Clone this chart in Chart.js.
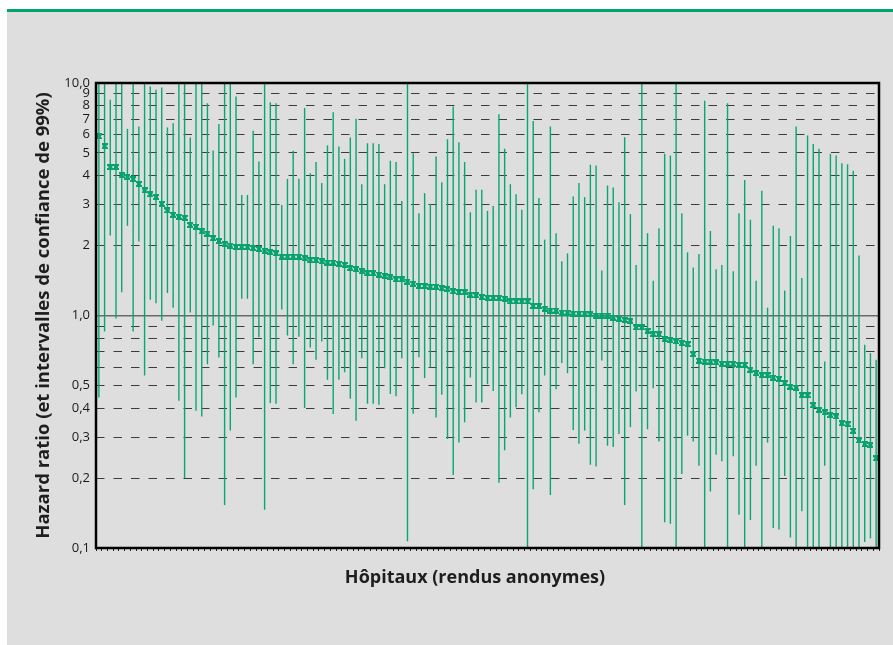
<!DOCTYPE html>
<html>
<head>
<meta charset="utf-8">
<script src="https://cdn.jsdelivr.net/npm/chart.js@4.4.1/dist/chart.umd.min.js"></script>
<style>
html, body { margin: 0; padding: 0; background: #fff; }
#panel { position: absolute; left: 7px; top: 9px; width: 886px; height: 636px; background: #dedede; border-top: 3px solid #00a470; box-sizing: border-box; }
#wrap { position: absolute; left: 0; top: 0; width: 893px; height: 645px; }
</style>
</head>
<body>
<div id="panel"></div>
<div id="wrap"><canvas id="myChart"></canvas></div>
<script>
// hazard ratio per hospital, sorted high to low
var hazard = [5.89,5.35,4.35,4.35,4.01,3.94,3.86,3.68,3.45,3.32,3.23,3.02,2.83,2.71,2.66,2.63,2.45,2.41,2.30,2.25,
  2.15,2.09,2.03,2.00,1.97,1.97,1.97,1.95,1.93,1.90,1.87,1.85,1.79,1.79,1.79,1.79,1.76,1.73,1.73,1.71,
  1.69,1.69,1.67,1.65,1.60,1.58,1.55,1.52,1.52,1.50,1.48,1.46,1.43,1.43,1.40,1.37,1.34,1.34,1.33,1.33,
  1.31,1.30,1.27,1.26,1.26,1.23,1.22,1.20,1.19,1.19,1.19,1.18,1.15,1.15,1.15,1.15,1.10,1.10,1.07,1.05,
  1.05,1.03,1.03,1.02,1.02,1.02,1.01,1.00,1.00,1.00,0.98,0.97,0.957,0.949,0.888,0.888,0.859,0.834,0.83,0.791,
  0.783,0.773,0.760,0.753,0.682,0.640,0.634,0.634,0.628,0.620,0.62,0.62,0.613,0.613,0.584,0.565,0.554,0.554,0.541,0.534,
  0.512,0.495,0.49,0.454,0.454,0.411,0.393,0.383,0.373,0.368,0.344,0.341,0.319,0.29,0.28,0.277,0.243];
// lower bound of the 99% interval
var lower = [0.444,0.853,2.21,0.97,1.26,2.43,0.853,2.08,0.552,1.17,1.13,0.95,1.25,1.08,0.43,0.20,1.03,0.389,0.368,0.617,
  0.906,0.66,0.153,0.32,0.444,1.18,1.18,0.617,0.807,0.146,0.42,0.417,1.06,0.82,0.617,0.81,0.40,0.728,0.645,0.773,
  0.529,0.377,0.529,0.57,0.438,0.353,0.655,0.417,0.417,0.413,0.593,0.46,0.449,0.655,0.107,0.378,0.662,0.538,0.597,0.364,
  0.456,0.294,0.206,0.284,0.347,0.541,0.423,0.423,0.507,0.474,0.191,0.263,0.364,0.402,0.459,0.09,0.179,0.384,0.552,0.169,
  0.482,0.624,0.565,0.322,0.281,0.32,0.228,0.224,0.64,0.275,0.272,0.309,0.153,0.331,0.471,0.09,0.324,0.487,0.287,0.129,
  0.127,0.09,0.208,0.304,0.287,0.226,0.09,0.175,0.252,0.236,0.09,0.248,0.139,0.09,0.132,0.226,0.09,0.284,0.122,0.12,
  0.204,0.111,0.09,0.144,0.09,0.09,0.09,0.226,0.09,0.09,0.09,0.09,0.09,0.09,0.106,0.110,0.09];
// upper bound of the 99% interval (above 10 = off the chart)
var upper = [12,12,8.47,12,12,6.35,12,6.50,12,9.66,9.35,9.57,6.44,6.72,12,12,5.83,12,12,8.19,
  5.13,6.67,12,12,8.75,3.30,3.30,6.23,4.60,12,8.27,8.19,2.99,3.87,5.11,3.87,7.80,4.09,4.57,3.71,
  5.39,7.49,5.33,4.72,5.83,7.01,3.67,5.51,5.51,5.46,3.67,4.63,4.57,3.11,12,4.99,2.75,3.36,3.02,4.83,
  3.74,5.73,7.92,5.56,4.57,2.78,3.47,3.47,2.82,2.96,7.34,5.21,3.67,3.32,2.85,12,6.87,3.20,2.12,6.50,
  2.26,1.71,1.85,3.25,3.71,3.23,4.45,4.42,1.56,3.62,3.55,3.07,5.85,2.73,1.65,12,2.26,1.41,2.37,4.96,
  4.88,12,2.75,1.87,1.61,1.84,8.38,2.31,1.58,1.65,8.19,1.55,2.75,3.83,2.58,1.41,3.44,1.08,2.43,2.37,
  1.28,2.20,6.50,1.45,5.95,5.46,5.21,0.634,4.96,4.88,4.52,4.47,4.19,1.81,0.748,0.689,0.645];

var hospitals = hazard.map(function(v, i) { return 'H' + (i + 1); });

var gridValues = [0.1,0.2,0.3,0.4,0.5,0.6,0.7,0.8,0.9,1,2,3,4,5,6,7,8,9,10];
var tickValues = [0.1,0.2,0.3,0.4,0.5,1,2,3,4,5,6,7,8,9,10];
var tickLabels = ['0,1','0,2','0,3','0,4','0,5','1,0','2','3','4','5','6','7','8','9','10,0'];

var green = '#05a873';

// marker: small square with notches on the sides
var mark = document.createElement('canvas');
mark.width = 6; mark.height = 6;
var mc = mark.getContext('2d');
mc.fillStyle = '#07a26e';
mc.fillRect(0, 0, 6, 2);
mc.fillRect(1, 2, 4, 2);
mc.fillRect(0, 4, 6, 2);

function isOne(ctx) {
  return ctx.tick && Math.abs(ctx.tick.value - 1) < 1e-9;
}

var frame = {
  id: 'frame',
  afterDraw: function(chart) {
    var a = chart.chartArea, c = chart.ctx;
    c.save();
    c.strokeStyle = '#000';
    c.lineWidth = 2.5;
    c.strokeRect(a.left, a.top, a.right - a.left, a.bottom - a.top);
    c.fillStyle = '#1e1e1e';
    c.font = 'bold 18px "Open Sans"';
    c.textAlign = 'center';
    c.textBaseline = 'middle';
    c.fillText('Hôpitaux (rendus anonymes)', 475, 578);
    c.restore();
  }
};

Chart.defaults.font.family = '"Open Sans"';

var graph = new Chart(document.getElementById('myChart'), {
  data: {
    labels: hospitals,
    datasets: [
      {
        type: 'line',
        data: hazard,
        showLine: false,
        pointStyle: mark,
        pointRadius: 3,
        order: 0,
        clip: false
      },
      {
        type: 'bar',
        data: lower.map(function(l, i) { return [l, upper[i]]; }),
        backgroundColor: green,
        barThickness: 1.4,
        inflateAmount: 0,
        grouped: false,
        order: 1,
        clip: 0
      }
    ]
  },
  options: {
    responsive: true,
    maintainAspectRatio: false,
    animation: false,
    layout: { padding: { left: 0, top: 83, right: 14, bottom: 87 } },
    plugins: { legend: { display: false }, tooltip: { enabled: false } },
    scales: {
      x: {
        type: 'category',
        offset: true,
        grid: { drawOnChartArea: false, drawTicks: true, tickLength: 3, tickColor: '#222', offset: true },
        border: { display: false },
        ticks: { display: false, autoSkip: false },
        afterFit: function(s) { s.height = 10; }
      },
      y: {
        type: 'logarithmic',
        min: 0.1,
        max: 10,
        afterBuildTicks: function(s) {
          s.ticks = gridValues.map(function(v) { return { value: v }; });
        },
        afterFit: function(s) { s.width = 96; },
        ticks: {
          autoSkip: false,
          padding: 6,
          color: '#1a1a1a',
          font: { size: 13 },
          callback: function(value) {
            for (var i = 0; i < tickValues.length; i++) {
              if (Math.abs(tickValues[i] - value) < 1e-6) return tickLabels[i];
            }
            return '';
          }
        },
        grid: {
          drawTicks: false,
          color: function(ctx) { return isOne(ctx) ? '#6a6a6a' : '#3c3c3c'; },
          lineWidth: function(ctx) { return isOne(ctx) ? 1.6 : 1; }
        },
        border: {
          display: false,
          dash: function(ctx) { return (ctx.tick && !isOne(ctx)) ? [8.5, 9] : []; }
        },
        title: {
          display: true,
          text: 'Hazard ratio (et intervalles de confiance de 99%)',
          color: '#1e1e1e',
          font: { size: 18.5, weight: 'bold' },
          padding: { top: 33, bottom: 0 }
        }
      }
    }
  },
  plugins: [frame]
});
</script>
</body>
</html>
